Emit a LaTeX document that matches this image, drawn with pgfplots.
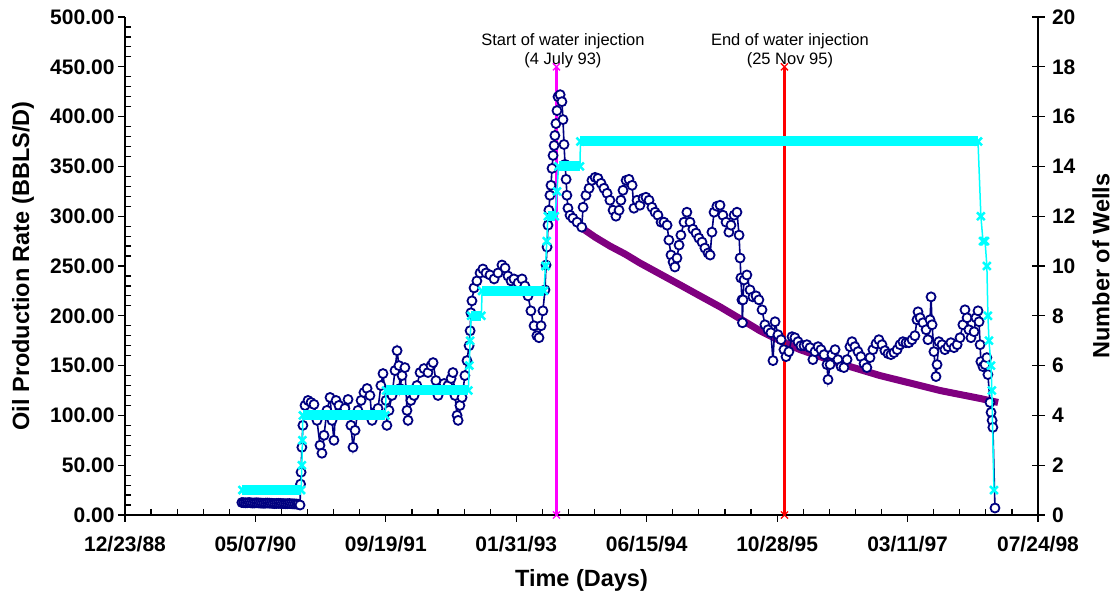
\documentclass[border=0pt]{standalone}
\usepackage{fontspec}
\setmainfont{Liberation Sans}
\usepackage{pgfplots}
\pgfplotsset{compat=1.18}
\definecolor{navyc}{HTML}{000080}
\definecolor{purp}{HTML}{800080}
\definecolor{cyanc}{RGB}{0,255,255}
\definecolor{magc}{RGB}{255,0,255}
\definecolor{redc}{RGB}{255,0,0}
\begin{document}
\begin{tikzpicture}
\useasboundingbox (-125pt,-86pt) rectangle (990pt,515pt);
\begin{axis}[
 at={(0pt,0pt)}, anchor=south west,
 scale only axis, width=913pt, height=498pt,
 xmin=0, xmax=3500, ymin=0, ymax=500,
 axis x line*=bottom, axis y line*=left,
 axis line style={line width=2.8pt,-},
 xtick={0,500,...,3500},
 xticklabels={12/23/88,05/07/90,09/19/91,01/31/93,06/15/94,10/28/95,03/11/97,07/24/98},
 minor x tick num=4,
 ytick={0,50,...,500},
 yticklabels={0.00,50.00,100.00,150.00,200.00,250.00,300.00,350.00,400.00,450.00,500.00},
 minor y tick num=4,
 tick align=outside,
 major tick length=7pt, minor tick length=-6pt,
 tick style={black, line width=1.2pt},
 ticklabel style={font=\fontsize{21}{25}\selectfont\bfseries},
 xticklabel style={yshift=-11pt},
 xlabel={Time (Days)}, ylabel={Oil Production Rate (BBLS/D)},
 every axis x label/.style={at={(axis description cs:0.5,-0.1305)}, anchor=center},
 every axis y label/.style={at={(axis description cs:-0.1117,0.5)}, rotate=90, anchor=center},
 label style={font=\fontsize{23.5}{27}\selectfont\bfseries},
 clip=false,
]
% decline curve
\addplot[purp, line width=7pt, no marks] coordinates {
(1752,288) (1802,279) (1859,270) (1917,262) (1974,253) (2051,242) (2128,231) (2204,220)
(2281,209) (2358,197) (2434,185) (2511,175) (2588,166) (2664,159) (2741,152) (2818,146)
(2894,140) (2971,135) (3048,130) (3124,125) (3201,121) (3278,117) (3347,113)};
% oil production rate
\addplot[navyc, line width=1.6pt, mark=*, mark size=4.5pt, mark options={fill=white, draw=navyc, line width=1.8pt}] coordinates {
(448,12.5) (455,12.4) (462,12.2) (469,12.3) (476,12.5) (483,12.2) (490,12) (497,12.1) (504,12.3) (511,12.1)
(518,12) (525,11.9) (532,11.8) (539,11.9) (546,12) (553,11.9) (560,11.8) (567,11.6) (574,11.5) (581,11.6)
(588,11.7) (595,11.6) (602,11.5) (609,11.4) (616,11.3) (623,11.4) (630,11.5) (637,11.3) (644,11.2)
(651,11.1) (658,11) (664,10.8) (671,10)
(673,31) (675,43) (678,68) (682,90) (690,110) (701.5,115) (713,113) (724.5,111) (736,95) (747.5,70)
(755,62) (763,80) (774,105) (786,118) (793.5,95) (801,75) (809,115) (820,110) (832,103) (843,107)
(855,116) (866,90) (874,68) (882,85) (893,105) (905,115) (916,123) (928,127) (939,120) (947,95)
(958,103) (970,107) (981,130) (989,142) (1000.5,115) (1004,90) (1012,105) (1023.5,120) (1035,145)
(1043,165) (1050,150) (1054,127) (1062,140) (1073,148) (1081,105) (1085,95) (1096,115) (1108,120)
(1119,130) (1131,143) (1146,147) (1161.5,143) (1173,150) (1181,153) (1192,135) (1200,120) (1211,127)
(1223,132) (1238,130) (1250,137) (1257,143) (1265,120) (1273,100) (1277,95) (1284,110) (1292,118)
(1303,140) (1311,155) (1319,170) (1323,185) (1326,203) (1330,215) (1338,228) (1349,235) (1361,243)
(1372,247) (1384,243) (1399,241) (1415,237) (1430,243) (1445,251) (1457,248) (1468,240) (1480,235)
(1491,237) (1507,233) (1522,237) (1533,230) (1545,220) (1556,205) (1568,190) (1579,180) (1587,178)
(1595,190) (1602,205) (1610,226) (1614,251) (1618,269) (1621.5,291) (1625,306) (1629,321) (1633,331)
(1637,348) (1641,361) (1645,371) (1648,381) (1652,393) (1656,406) (1660,420) (1668,422) (1675,415)
(1679,397) (1683,372) (1687,352) (1691,337) (1694,321) (1698,308) (1706,301) (1717,298) (1733,294)
(1751,289)
(1756,309) (1767,321) (1779,328) (1790,336) (1802,339) (1813,338) (1825,333) (1836,328) (1848,323)
(1859,316) (1871,306) (1882,300) (1894,306) (1901,316) (1909,326) (1921,336) (1932,337) (1944,331)
(1951,308) (1963,316) (1974,311) (1986,318) (1997,319) (2009,316) (2020,309) (2032,304) (2043,301)
(2055,294) (2066,294) (2078,291) (2085,276) (2093,261) (2101,254) (2108,249) (2116,258) (2124,271)
(2131,281) (2143,294) (2154,304) (2166,294) (2177,287) (2189,283) (2200,278) (2212,274) (2223,268)
(2235,263) (2243,261) (2250,284) (2258,304) (2269,310) (2281,311) (2292,301) (2304,294) (2315,284)
(2323,291) (2335,301) (2346,304) (2354,281) (2358,258) (2361,238) (2365,216) (2367,193) (2369,216)
(2373,236) (2384,241) (2396,226) (2407,219) (2419,220) (2430,216) (2442,206) (2453,191) (2465,186)
(2476,183) (2484,155) (2492,194) (2503,181) (2515,176) (2526,166) (2534,159)
(2545,164) (2557,179) (2568,178) (2580,174) (2591,170) (2603,170) (2614,171) (2626,168) (2637,156)
(2645,164) (2657,169) (2668,166) (2680,161) (2691,151) (2695,136) (2703,151) (2710,161) (2722,166)
(2733,156) (2745,149) (2756,148) (2768,156) (2779,169) (2787,174) (2798,169) (2810,164) (2821,159)
(2833,152) (2844,148) (2856,158) (2867,166) (2879,172) (2890,176) (2902,171) (2913,165) (2925,162)
(2936,161) (2948,163) (2960,166) (2971,171) (2982,174) (2994,173) (3005,173) (3017,176) (3028,180)
(3036,196) (3040,204) (3048,198) (3059,193) (3071,186) (3078,176) (3086,196) (3090,219) (3094,191)
(3101,164) (3109,139) (3113,151) (3120,174) (3132,171) (3143,166) (3155,169) (3166,173) (3178,168)
(3190,171) (3201,178) (3212,191) (3220,206) (3228,198) (3235,186) (3243,178) (3255,184) (3262,198)
(3270,205) (3274,194) (3278,171) (3281,154) (3289,149) (3297,151) (3304,158) (3308,141) (3316,113)
(3320,103) (3324,95) (3327,88) (3335,7)};
% water injection markers
\addplot[magc, line width=2.5pt, mark=x, mark size=5pt, mark options={line width=1.3pt}] coordinates {(1654,0) (1654,450)};
\addplot[redc, line width=2.5pt, mark=x, mark size=5pt, mark options={line width=1.3pt}] coordinates {(2528,0) (2528,450)};
\node[align=center, font=\fontsize{16.5}{18.5}\selectfont] at (axis cs:1679,466) {Start of water injection\\(4 July 93)};
\node[align=center, font=\fontsize{16.5}{18.5}\selectfont] at (axis cs:2549,466) {End of water injection\\(25 Nov 95)};
\end{axis}
\begin{axis}[
 at={(0pt,0pt)}, anchor=south west,
 scale only axis, width=913pt, height=498pt,
 xmin=0, xmax=3500, ymin=0, ymax=20,
 axis x line=none, axis y line*=right,
 axis line style={line width=2.8pt,-},
 ytick={0,2,...,20},
 yticklabels={0,2,4,6,8,10,12,14,16,18,20},
 tick align=center, major tick length=13pt,
 tick style={black, line width=1.2pt},
 ticklabel style={font=\fontsize{21}{25}\selectfont\bfseries},
 yticklabel style={xshift=4pt},
 ylabel={Number of Wells},
 every axis y label/.style={at={(axis description cs:1.069,0.5)}, rotate=90, anchor=center},
 label style={font=\fontsize{23.5}{27}\selectfont\bfseries},
 clip=false,
]
\addplot[cyanc, line width=10pt, no marks, forget plot] coordinates {(450,1) (675,1)};
\addplot[cyanc, line width=10pt, no marks, forget plot] coordinates {(682,4) (998,4)};
\addplot[cyanc, line width=10pt, no marks, forget plot] coordinates {(1001,5) (1316,5)};
\addplot[cyanc, line width=10pt, no marks, forget plot] coordinates {(1327,8) (1366,8)};
\addplot[cyanc, line width=10pt, no marks, forget plot] coordinates {(1369,9) (1606,9)};
\addplot[cyanc, line width=10pt, no marks, forget plot] coordinates {(1621,12) (1648,12)};
\addplot[cyanc, line width=10pt, no marks, forget plot] coordinates {(1662,14) (1744,14)};
\addplot[cyanc, line width=10pt, no marks, forget plot] coordinates {(1746,15) (3270,15)};
\addplot[cyanc, line width=1.5pt, mark=x, mark size=5.5pt, mark options={line width=2.5pt}] coordinates {
(450,1) (675,1) (678,2) (680,3) (682,4) (998,4) (1001,5) (1316,5) (1320,6) (1323,7) (1327,8) (1366,8)
(1369,9) (1606,9) (1612,10) (1617,11) (1621,12) (1648,12) (1656,13) (1662,14) (1744,14) (1746,15)
(3270,15) (3281,12) (3289,11) (3293,11) (3297,11) (3304,10) (3308,8) (3312,7) (3320,6) (3323,5) (3331,1)};
\end{axis}
\end{tikzpicture}
\end{document}
